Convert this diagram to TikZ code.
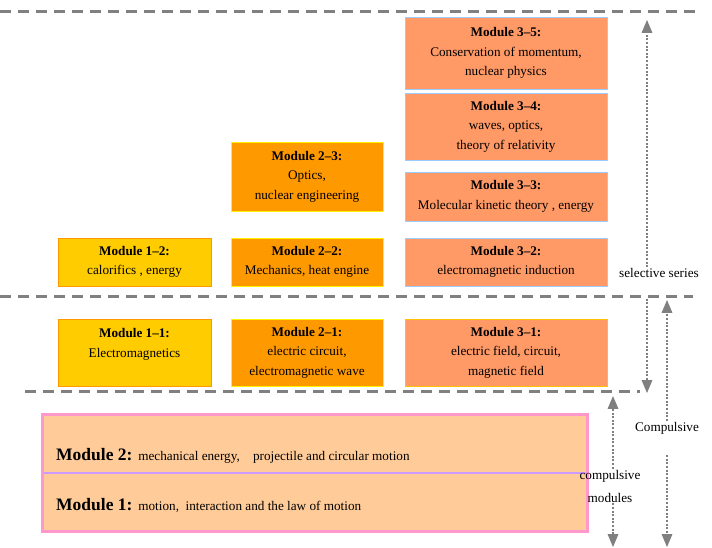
\documentclass[tikz,border=0pt]{standalone}
\usepackage{fontspec}
\setmainfont{Liberation Serif}
\usepackage{tikz}
\usetikzlibrary{arrows,positioning,calc}
\definecolor{yellowbox}{HTML}{FFCC00}
\definecolor{orangebox}{HTML}{FF9900}
\definecolor{salmonbox}{HTML}{FF9966}
\definecolor{peachbox}{HTML}{FFCC99}
\definecolor{pinkframe}{HTML}{FF99CC}
\definecolor{lavender}{HTML}{CC99FF}
\definecolor{lightblue}{HTML}{99CCFF}
\definecolor{linegray}{HTML}{808080}

\begin{document}
\begin{tikzpicture}[x=1pt,y=-1pt,>=triangle 45,
module/.style={
draw,
line width=0.8pt,
align=center,
inner sep=0pt,
font=\fontsize{13.2}{19.5}\selectfont,
},
col1/.style={module,fill=yellowbox,draw=orangebox,minimum width=153pt},
col2/.style={module,fill=orangebox,draw=yellow,minimum width=152pt},
col3/.style={module,fill=salmonbox,draw=lightblue,minimum width=202pt},
level/.style={draw=linegray,line width=3pt,dash pattern=on 11pt off 7pt},
dotarrow/.style={draw=linegray,line width=2pt,dash pattern=on 2pt off 1.6pt,->},
side/.style={font=\fontsize{13.2}{23}\selectfont,align=center,inner sep=1pt},
]
\useasboundingbox (0,0) rectangle (712,548);

% selective modules
\node [col3,minimum height=72pt] (m35) at (506,53)  {\textbf{Module 3--5:}\\Conservation of momentum,\\nuclear physics};
\node [col3,minimum height=67pt] (m34) at (506,126.5){\textbf{Module 3--4:}\\waves, optics,\\theory of relativity};
\node [col3,minimum height=49pt] (m33) at (506,196.5){\textbf{Module 3--3:}\\Molecular kinetic theory , energy};
\node [col3,minimum height=48pt] (m32) at (506,262)  {\textbf{Module 3--2:}\\electromagnetic induction};
\node [col2,minimum height=69pt] (m23) at (307,176.5){\textbf{Module 2--3:}\\Optics,\\nuclear engineering};
\node [col2,minimum height=48pt] (m22) at (307,262)  {\textbf{Module 2--2:}\\Mechanics, heat engine};
\node [col1,minimum height=48pt] (m12) at (134.5,262){\textbf{Module 1--2:}\\calorifics , energy};

% compulsive series
\node [col3,draw=orangebox!60!yellow,minimum height=67pt] (m31) at (506,352.5){\textbf{Module 3--1:}\\electric field, circuit,\\magnetic field};
\node [col2,minimum height=67pt] (m21) at (307,352.5){\textbf{Module 2--1:}\\electric circuit,\\electromagnetic wave};
\node [col1,minimum height=67pt] (m11) at (134.5,352.5){\textbf{Module 1--1:}\\Electromagnetics\\~};

% compulsive modules
\node [fill=peachbox,minimum width=544pt,minimum height=58pt,inner sep=0pt] (mod2) at (315,444) {};
\node [fill=peachbox,minimum width=544pt,minimum height=58pt,inner sep=0pt] (mod1) at (315,502) {};
\draw [lavender,line width=1.5pt] (mod2.south west) -- (mod2.south east);
\draw [pinkframe,line width=3pt] (mod2.north west) rectangle (mod1.south east);
\node [anchor=base west,inner sep=0pt] (t2) at (56,460) {\fontsize{17.5}{18}\selectfont\textbf{Module 2:} \fontsize{13.2}{14}\selectfont mechanical energy,\quad projectile and circular motion};
\node [anchor=base west,inner sep=0pt] (t1) at (56,510) {\fontsize{17.5}{18}\selectfont\textbf{Module 1:} \fontsize{13.2}{14}\selectfont motion,\enspace interaction and the law of motion};

% levels
\coordinate (top0) at (0,12);
\coordinate (top1) at (695,12);
\coordinate (mid0) at (0,296);
\coordinate (mid1) at (693,296);
\coordinate (low0) at (25,391);
\coordinate (low1) at (640,391);
\draw [level] (top0) -- (top1);
\draw [level] (mid0) -- (mid1);
\draw [level] (low0) -- (low1);

% side labels
\node [side] (selective) at (659,273) {selective series};
\node [side] (compulsive) at (667,428) {Compulsive};
\node [side] (compmod) at (610,486) {compulsive\\modules};

\coordinate (sel1) at (647,20);
\coordinate (sel2) at (647,393);
\coordinate (com1) at (667,300);
\coordinate (com2) at (667,547);
\coordinate (cm1) at (613,396);
\coordinate (cm2) at (613,547);
\draw [dotarrow] (selective.north -| sel1) -- (sel1);
\draw [dotarrow] ($(selective.south -| sel2)+(0,20)$) -- (sel2);
\draw [dotarrow] (compulsive.north -| com1) -- (com1);
\draw [dotarrow] ($(compulsive.south -| com2)+(0,20)$) -- (com2);
\draw [dotarrow] (compmod.north -| cm1) -- (cm1);
\draw [dotarrow] (compmod.south -| cm2) -- (cm2);
\end{tikzpicture}
\end{document}
